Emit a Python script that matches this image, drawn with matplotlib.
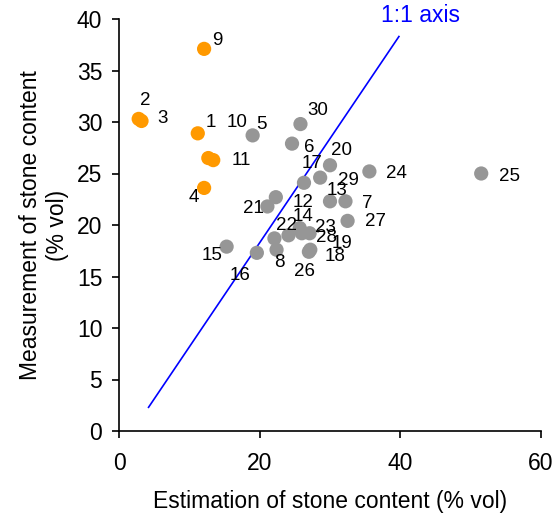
import matplotlib
matplotlib.use("Agg")
import matplotlib.pyplot as plt

plt.rcParams['font.family'] = ['Liberation Sans', 'DejaVu Sans']

# Orange group
orange_ids = ["9", "2", "3", "1", "10", "11", "4"]
orange_x = [12.1, 2.8, 3.2, 11.2, 12.7, 13.4, 12.1]
orange_y = [37.1, 30.3, 30.1, 28.9, 26.5, 26.3, 23.6]

# Gray group
gray_ids = ["5", "30", "6", "20", "24", "25", "17", "29", "13", "7", "27", "12",
            "21", "15", "16", "22", "8", "14", "28", "19", "23", "18", "26"]
gray_x = [19.0, 25.8, 24.6, 30.0, 35.6, 51.5, 26.3, 28.6, 30.0, 32.2, 32.5, 22.3,
          21.1, 15.3, 19.6, 22.1, 22.4, 25.7, 26.0, 27.1, 24.1, 27.2, 27.0]
gray_y = [28.7, 29.8, 27.9, 25.8, 25.2, 25.0, 24.1, 24.6, 22.3, 22.3, 20.4, 22.7,
          21.8, 17.9, 17.3, 18.7, 17.6, 19.7, 19.2, 19.2, 19.0, 17.6, 17.4]

# 1:1 axis line
line_x = [4.2, 39.8]
line_y = [2.3, 38.3]

# label offsets (pixels)
offsets = {
    "9": (13, 8), "2": (7, 18), "3": (21, 2), "1": (13, 11), "10": (29, 36),
    "11": (28, 0), "4": (-10, -10), "5": (9, 11), "30": (17, 14), "6": (17, -4),
    "20": (12, 15), "24": (27, -2), "25": (28, -3), "17": (8, 19), "29": (28, -3),
    "13": (7, 11), "7": (22, -2), "27": (28, -1), "12": (27, -5), "21": (-14, -2),
    "15": (-15, -9), "16": (-17, -23), "22": (12, 13), "8": (3, -13), "14": (3, 12),
    "28": (25, -4), "19": (32, -10), "23": (37, 8), "18": (25, -7), "26": (-4, -20),
}

fig = plt.figure(figsize=(5.54, 5.17), dpi=100)
ax = fig.add_axes([119/554, 1 - 431/517, (541-119)/554, (431-19)/517])

ax.plot(line_x, line_y, color="#0000FF", lw=1.2, zorder=1)
ax.scatter(gray_x, gray_y, s=105, color="#969696", edgecolors="none", zorder=2)
ax.scatter(orange_x, orange_y, s=105, color="#FF9900", edgecolors="none", zorder=3)

for ids, xs, ys in [(orange_ids, orange_x, orange_y), (gray_ids, gray_x, gray_y)]:
    for i, x, y in zip(ids, xs, ys):
        dx, dy = offsets[i]
        ax.annotate(i, (x, y), xytext=(dx, dy), textcoords="offset pixels",
                    ha="center", va="center", fontsize=13.5, color="black", zorder=4)

ax.text(42.8, 40.3, "1:1 axis", color="#0000FF", fontsize=16.5, ha="center",
        va="center", clip_on=False)

ax.set_xlim(0, 60)
ax.set_ylim(0, 40)
ax.set_xticks([0, 20, 40, 60])
ax.set_yticks(range(0, 41, 5))
for s in ["top", "right"]:
    ax.spines[s].set_visible(False)
for s in ["left", "bottom"]:
    ax.spines[s].set_linewidth(1.2)
ax.tick_params(direction="out", length=5, width=1.2, labelsize=16.5)
ax.tick_params(axis="x", pad=10)
ax.tick_params(axis="y", pad=7)
ax.set_xlabel("Estimation of stone content (% vol)", fontsize=16.5, labelpad=11)
ax.set_ylabel("Measurement of stone content\n(% vol)", fontsize=16.5, labelpad=6)

fig.savefig("out.png", dpi=100)
